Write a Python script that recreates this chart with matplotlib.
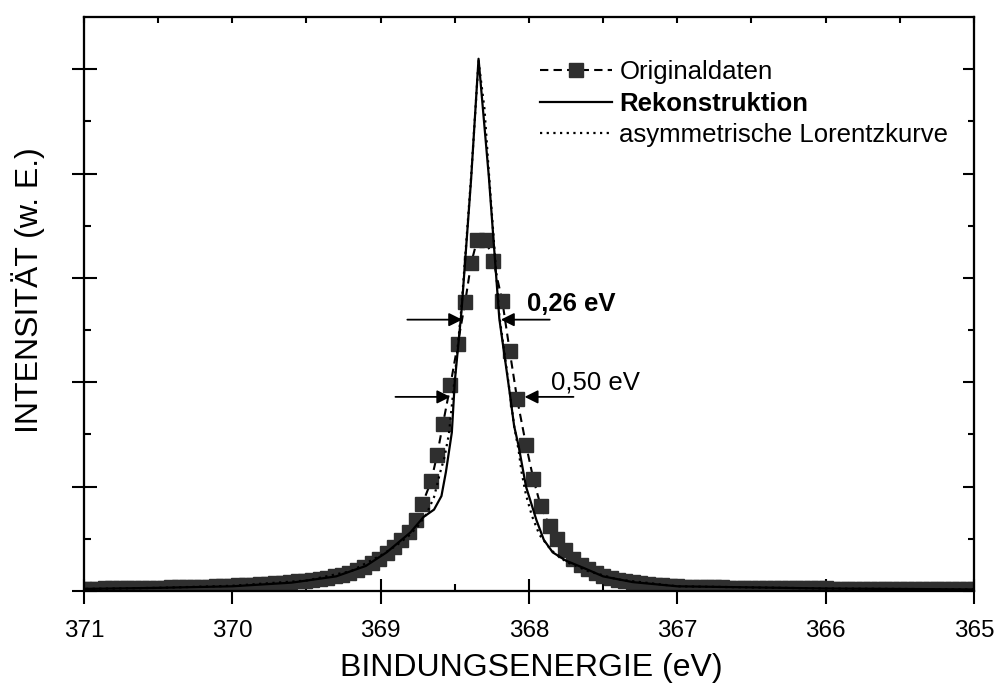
import matplotlib
matplotlib.use('Agg')
import matplotlib.pyplot as plt
import numpy as np
from matplotlib.lines import Line2D

plt.rcParams['font.family'] = ['Liberation Sans', 'DejaVu Sans']

# measured spectrum (binding energy in eV, intensity in arb. units)
ev_orig = [365.00, 365.05, 365.10, 365.15, 365.20, 365.25, 365.30, 365.35, 365.40, 365.45,
           365.50, 365.55, 365.60, 365.65, 365.70, 365.75, 365.80, 365.85, 365.90, 365.95,
           366.00, 366.05, 366.10, 366.15, 366.20, 366.25, 366.30, 366.35, 366.40, 366.45,
           366.50, 366.55, 366.60, 366.65, 366.70, 366.75, 366.80, 366.85, 366.90, 366.95,
           367.00, 367.05, 367.10, 367.15, 367.20, 367.25, 367.30, 367.35, 367.40, 367.45,
           367.50, 367.55, 367.60, 367.65, 367.70, 367.76, 367.81, 367.86, 367.92, 367.97,
           368.02, 368.08, 368.13, 368.18, 368.24, 368.29,
           368.35, 368.39, 368.43, 368.48, 368.53, 368.58, 368.62, 368.66, 368.72, 368.76,
           368.81, 368.86, 368.91, 368.96, 369.01, 369.06, 369.11, 369.16, 369.21, 369.26,
           369.31, 369.36, 369.41, 369.46, 369.51, 369.56, 369.61, 369.66, 369.71, 369.76,
           369.81, 369.86, 369.91, 369.96, 370.01, 370.06, 370.11, 370.16, 370.21, 370.26,
           370.31, 370.36, 370.41, 370.46, 370.51, 370.56, 370.61, 370.66, 370.71, 370.76,
           370.81, 370.86, 370.91, 370.96, 371.00]
int_orig = [0.015, 0.015, 0.016, 0.016, 0.016, 0.017, 0.017, 0.017, 0.018, 0.018,
            0.018, 0.019, 0.019, 0.020, 0.020, 0.021, 0.021, 0.022, 0.022, 0.023,
            0.024, 0.024, 0.025, 0.025, 0.026, 0.027, 0.027, 0.028, 0.029, 0.029,
            0.030, 0.031, 0.032, 0.033, 0.034, 0.035, 0.037, 0.039, 0.041, 0.043,
            0.046, 0.050, 0.055, 0.061, 0.068, 0.076, 0.085, 0.096, 0.108, 0.124,
            0.145, 0.17, 0.21, 0.25, 0.31, 0.39, 0.50, 0.62, 0.81, 1.07,
            1.40, 1.84, 2.30, 2.78, 3.16, 3.36,
            3.36, 3.14, 2.77, 2.37, 1.97, 1.60, 1.30, 1.05, 0.83, 0.68,
            0.57, 0.49, 0.42, 0.36, 0.31, 0.27, 0.23, 0.20, 0.175, 0.155,
            0.14, 0.125, 0.117, 0.108, 0.100, 0.093, 0.087, 0.081, 0.076, 0.071,
            0.066, 0.062, 0.058, 0.054, 0.050, 0.047, 0.045, 0.043, 0.041, 0.039,
            0.037, 0.035, 0.034, 0.032, 0.031, 0.030, 0.029, 0.028, 0.027, 0.026,
            0.025, 0.024, 0.023, 0.022, 0.021]

# reconstructed spectrum
ev_rek = [365.0, 366.0, 367.0, 367.3, 367.5, 367.63, 367.75, 367.84, 367.90, 367.95,
          368.02, 368.07, 368.10, 368.13, 368.20, 368.27, 368.34, 368.39, 368.455, 368.50,
          368.52, 368.56, 368.59, 368.64, 368.71, 368.80, 368.96, 369.1, 369.3, 369.6,
          370.0, 370.5, 371.0]
int_rek = [0.015, 0.024, 0.045, 0.085, 0.14, 0.22, 0.29, 0.37, 0.49, 0.68,
           1.00, 1.39, 1.58, 1.90, 2.61, 3.96, 5.10, 3.95, 2.68, 2.01,
           1.52, 1.14, 0.91, 0.78, 0.71, 0.56, 0.37, 0.24, 0.14, 0.08,
           0.045, 0.03, 0.02]

# asymmetric Lorentzian
ev_lor = [365.0, 366.0, 367.0, 367.4, 367.6, 367.75, 367.85, 367.93, 367.98, 368.02,
          368.05, 368.07, 368.10, 368.13, 368.20, 368.27, 368.30, 368.34, 368.39, 368.455,
          368.50, 368.54, 368.57, 368.60, 368.64, 368.69, 368.75, 368.81, 368.90, 369.0,
          369.2, 369.5, 370.0, 370.5, 371.0]
int_lor = [0.015, 0.024, 0.045, 0.11, 0.19, 0.28, 0.39, 0.54, 0.72, 0.92,
           1.14, 1.35, 1.58, 1.91, 2.64, 4.00, 4.62, 5.08, 3.97, 2.72,
           2.05, 1.50, 1.28, 1.13, 0.90, 0.74, 0.62, 0.53, 0.43, 0.34,
           0.19, 0.10, 0.05, 0.03, 0.02]

legend_labels = ['Originaldaten', 'Rekonstruktion', 'asymmetrische Lorentzkurve']
fwhm = [0.26, 0.50]
x_ticks = [371, 370, 369, 368, 367, 366, 365]

fig = plt.figure(figsize=(10.03, 6.86), dpi=100)
ax = fig.add_axes([0.0837, 0.1385, 0.8874, 0.8367])

sq_color = '#2f2f2f'
ax.plot(ev_orig, int_orig, color='k', lw=1.5, dashes=(4, 2.5), marker='s',
        ms=9.4, mfc=sq_color, mec=sq_color, zorder=2)
ax.plot(ev_rek, int_rek, color='k', lw=1.6, zorder=3)
ax.plot(ev_lor, int_lor, color='k', lw=1.6, dashes=(1, 2), zorder=3)

ax.set_xlim(371, 365)
ax.set_ylim(0, 5.5)

# full width arrows
arrow_props = dict(arrowstyle='-|>', color='k', lw=1.3, mutation_scale=20,
                   shrinkA=0, shrinkB=0)
centers = [368.32, 368.28]
heights = [2.60, 1.86]
for w, c, h in zip(fwhm, centers, heights):
    ax.annotate('', xy=(c + w / 2, h), xytext=(c + w / 2 + 0.37, h), arrowprops=arrow_props)
    ax.annotate('', xy=(c - w / 2, h), xytext=(c - w / 2 - 0.33, h), arrowprops=arrow_props)
ax.text(368.01, 2.75, ('%.2f eV' % fwhm[0]).replace('.', ','), fontsize=18.5,
        fontweight='bold', ha='left', va='center')
ax.text(367.85, 2.0, ('%.2f eV' % fwhm[1]).replace('.', ','), fontsize=18.5,
        ha='left', va='center')

handles = [Line2D([], [], color='k', lw=1.5, dashes=(4, 2.5), marker='s', ms=9.4,
                  mfc=sq_color, mec=sq_color),
           Line2D([], [], color='k', lw=1.6),
           Line2D([], [], color='k', lw=1.6, dashes=(1, 2))]
leg = ax.legend(handles, legend_labels, loc='upper left', bbox_to_anchor=(0.512, 0.925),
                frameon=False, fontsize=18.5, handlelength=2.8, handletextpad=0.3,
                labelspacing=0.3, borderpad=0, borderaxespad=0, numpoints=1)
leg.get_texts()[1].set_fontweight('bold')

# ticks
ax.set_xticks(x_ticks)
ax.set_xticklabels([str(t) for t in x_ticks])
ax.set_xticks(np.arange(365.5, 371, 1.0), minor=True)
ax.set_yticks(np.arange(0, 5.1, 1.0))
ax.set_yticks(np.arange(0.5, 5.0, 1.0), minor=True)
ax.set_yticklabels([])
ax.tick_params(which='major', direction='inout', length=18, width=1.5, labelsize=17.5, pad=12)
ax.tick_params(which='minor', direction='in', length=4.8, width=1.5)

axr = ax.twinx()
axr.set_ylim(0, 5.5)
axr.set_yticks(np.arange(0, 5.1, 1.0))
axr.set_yticks(np.arange(0.5, 5.0, 1.0), minor=True)
axr.tick_params(which='major', direction='in', length=8, width=1.5, labelright=False)
axr.tick_params(which='minor', direction='in', length=4.5, width=1.5)

axt = ax.twiny()
axt.set_xlim(371, 365)
axt.set_xticks(np.arange(365, 371.01, 0.5))
axt.tick_params(which='major', direction='in', length=4, width=1.5, labeltop=False)

for a in (ax, axr, axt):
    for s in a.spines.values():
        s.set_linewidth(1.5)

ax.set_xlabel('BINDUNGSENERGIE (eV)', fontsize=23, va='center')
ax.xaxis.set_label_coords(0.503, -0.134)
ax.set_ylabel('INTENSITÄT (w. E.)', fontsize=23, va='center')
ax.yaxis.set_label_coords(-0.063, 0.524)

fig.savefig('out.png', dpi=100)
